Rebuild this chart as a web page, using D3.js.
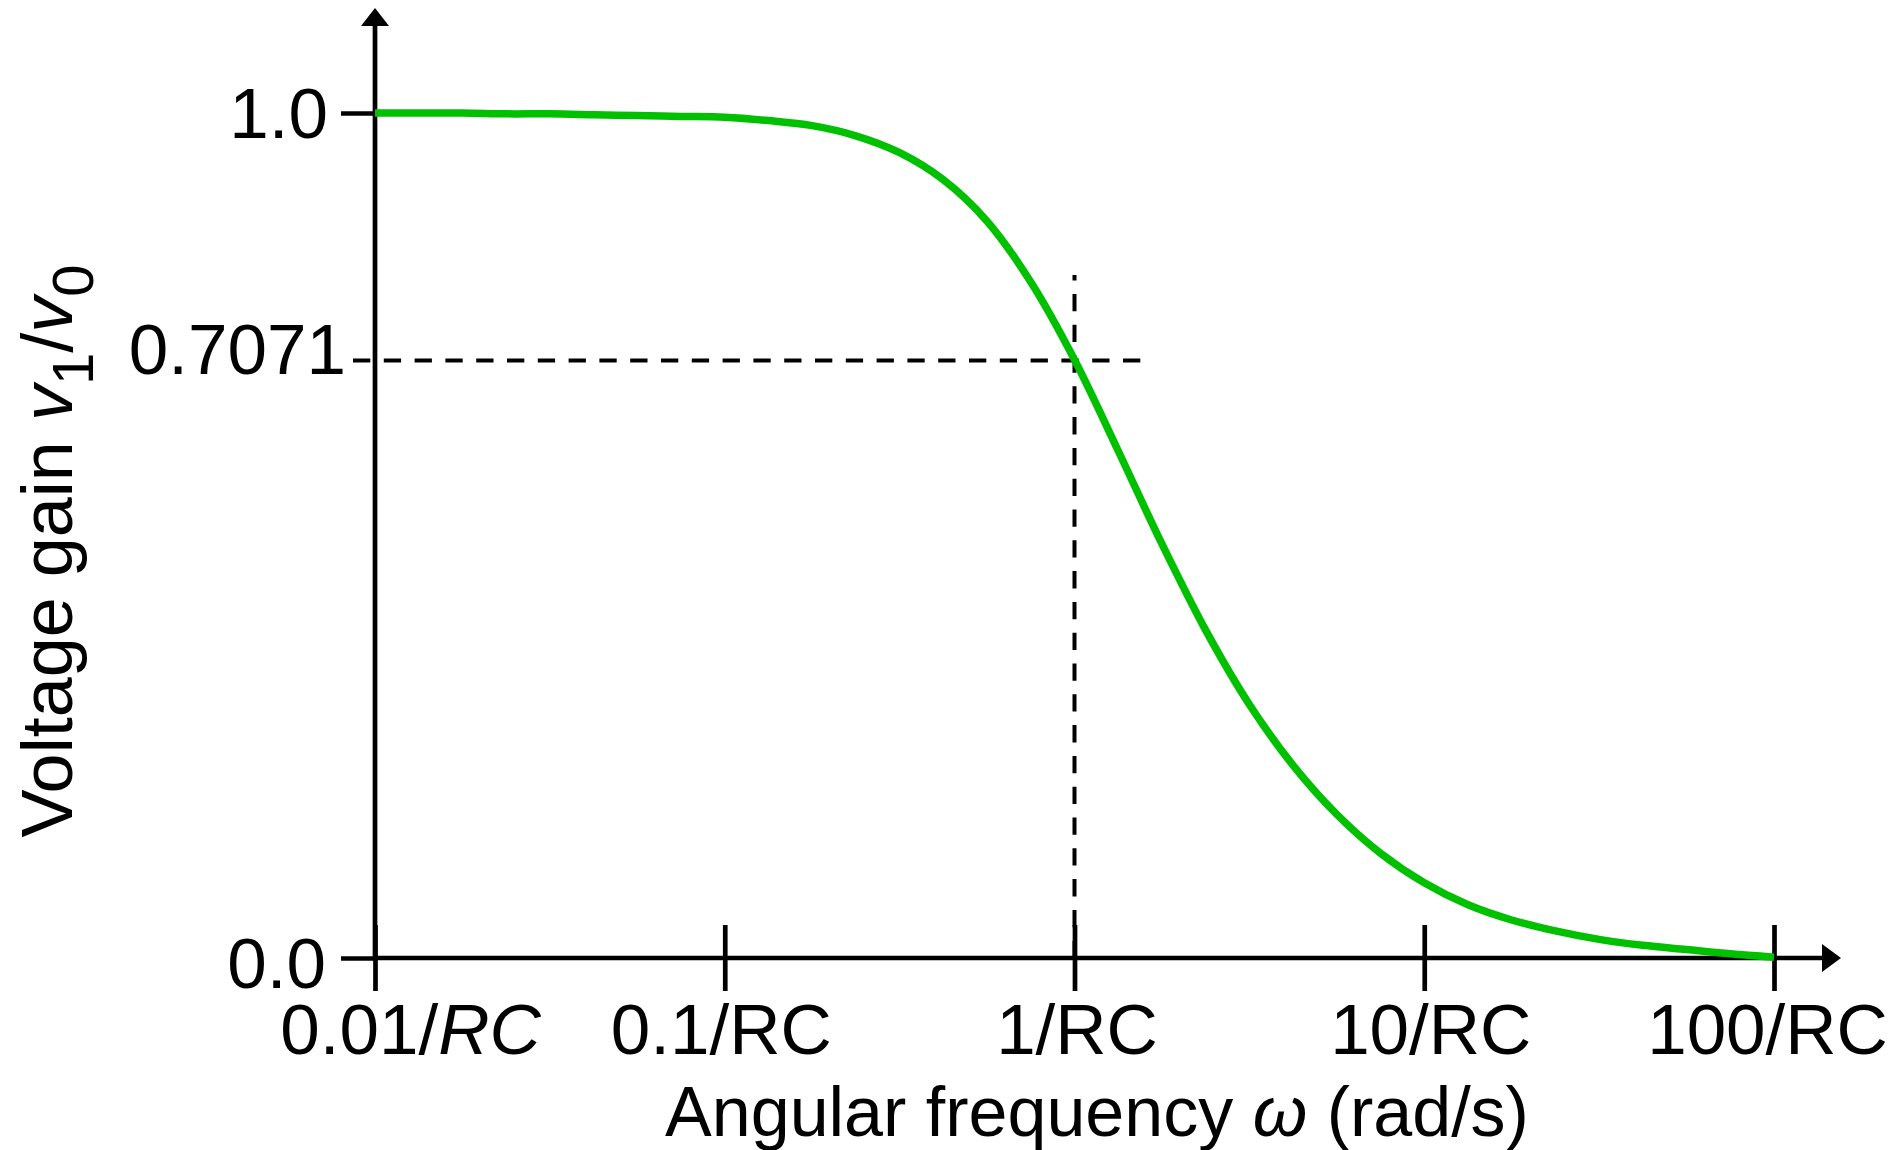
<!DOCTYPE html>
<html>
<head>
<meta charset="utf-8">
<script src="https://cdn.jsdelivr.net/npm/d3@7"></script>
<style>
  html, body { margin: 0; padding: 0; background: #ffffff; }
  svg { display: block; }
</style>
</head>
<body>
<div id="chart"></div>
<script>
// curve values (omega in units of 1/RC)
var omega = [0.01, 0.0133, 0.0178, 0.0237, 0.0316, 0.0422, 0.0562, 0.0750,
  0.1, 0.1334, 0.1778, 0.2371, 0.3162, 0.4217, 0.5623, 0.7499,
  1, 1.334, 1.778, 2.371, 3.162, 4.217, 5.623, 7.499,
  10, 13.34, 17.78, 23.71, 31.62, 42.17, 56.23, 74.99, 100]
var gain = [1.000, 1.000, 1.000, 0.999, 0.999, 0.998, 0.997, 0.996,
  0.995, 0.991, 0.985, 0.973, 0.953, 0.921, 0.872, 0.800,
  0.708, 0.600, 0.490, 0.388, 0.300, 0.228, 0.170, 0.124,
  0.089, 0.063, 0.045, 0.032, 0.022, 0.015, 0.010, 0.005, 0.001]

var xTickValues = [0.01, 0.1, 1, 10, 100]
// each label is a list of [text, italic] pieces
var xTickLabels = [
  [['0.01/', false], ['RC', true]],
  [['0.1/RC', false]],
  [['1/RC', false]],
  [['10/RC', false]],
  [['100/RC', false]]
]
var yTickValues = [0, 0.7071, 1]
var yTickLabels = ['0.0', '0.7071', '1.0']
var cutoffOmega = 1
var cutoffGain = 0.7071

var font = '"Liberation Sans", Arial, Helvetica, sans-serif'
var W = 1904, H = 1150
var axisWidth = 4.7

var svg = d3.select('#chart')
  .append('svg')
  .attr('width', W)
  .attr('height', H)
  .style('background', '#ffffff')

var x = d3.scaleLog().domain([0.01, 100]).range([375, 1774])
var y = d3.scaleLinear().domain([0, 1]).range([958, 113])

// small hand nudges so labels sit where the original put them
var xLabelNudge = [35, -4, 2, 6, -7]
var yLabelNudgeX = [-49, -29, -47]
var yLabelNudgeY = [5, -12, 0]

// X axis ticks (both sides of the axis line)
var xAxis = svg.append('g')
  .attr('transform', 'translate(0,' + y(0) + ')')
  .call(d3.axisBottom(x).tickValues(xTickValues).tickSize(33).tickFormat(''))
xAxis.select('.domain').remove()
xAxis.selectAll('.tick line')
  .attr('y1', -33)
  .attr('stroke', '#000')
  .attr('stroke-width', axisWidth)
xAxis.selectAll('.tick text').remove()
xAxis.selectAll('.tick').each(function (d, i) {
  var t = d3.select(this).append('text')
    .attr('x', xLabelNudge[i])
    .attr('y', 96)
    .attr('text-anchor', 'middle')
    .attr('fill', '#000')
    .style('font-family', font)
    .style('font-size', '71px')
  xTickLabels[i].forEach(function (p) {
    t.append('tspan')
      .style('font-style', p[1] ? 'italic' : 'normal')
      .text(p[0])
  })
})

// Y axis ticks
var yAxis = svg.append('g')
  .attr('transform', 'translate(' + x(0.01) + ',0)')
  .call(d3.axisLeft(y).tickValues(yTickValues).tickSize(34).tickFormat(''))
yAxis.select('.domain').remove()
yAxis.selectAll('.tick line')
  .attr('stroke', '#000')
  .attr('stroke-width', axisWidth)
  .filter(function (d) { return d === cutoffGain })
  .remove()
yAxis.selectAll('.tick text').remove()
yAxis.selectAll('.tick').each(function (d, i) {
  d3.select(this).append('text')
    .attr('x', yLabelNudgeX[i])
    .attr('y', yLabelNudgeY[i])
    .attr('dy', '0.35em')
    .attr('text-anchor', 'end')
    .attr('fill', '#000')
    .style('font-family', font)
    .style('font-size', '71px')
    .text(yTickLabels[i])
})

// dashed guides at the cutoff point
svg.append('line')
  .attr('x1', 353).attr('x2', 1142)
  .attr('y1', y(cutoffGain)).attr('y2', y(cutoffGain))
  .attr('stroke', '#000')
  .attr('stroke-width', 4)
  .attr('stroke-dasharray', '17.3,13.5')
svg.append('line')
  .attr('x1', x(cutoffOmega)).attr('x2', x(cutoffOmega))
  .attr('y1', y(0)).attr('y2', 275)
  .attr('stroke', '#000')
  .attr('stroke-width', 4)
  .attr('stroke-dasharray', '17.3,13.5')

// axis lines with arrow heads
var x0 = x(0.01), y0 = y(0)
svg.append('line')
  .attr('x1', x0).attr('x2', x0)
  .attr('y1', y0).attr('y2', 24)
  .attr('stroke', '#000').attr('stroke-width', axisWidth)
svg.append('path')
  .attr('d', 'M' + x0 + ',8 L' + (x0 - 14) + ',26 L' + (x0 + 14) + ',26 Z')
  .attr('fill', '#000')
svg.append('line')
  .attr('x1', x0).attr('x2', 1824)
  .attr('y1', y0).attr('y2', y0)
  .attr('stroke', '#000').attr('stroke-width', axisWidth)
svg.append('path')
  .attr('d', 'M1841,' + y0 + ' L1822,' + (y0 - 14) + ' L1822,' + (y0 + 14) + ' Z')
  .attr('fill', '#000')

// gain curve
var points = omega.map(function (w, i) { return [w, gain[i]] })
var line = d3.line()
  .x(function (d) { return x(d[0]) })
  .y(function (d) { return y(d[1]) })
  .curve(d3.curveCatmullRom.alpha(0.5))
svg.append('path')
  .datum(points)
  .attr('d', line)
  .attr('fill', 'none')
  .attr('stroke', '#00c000')
  .attr('stroke-width', 7.5)

// X label
var xLabel = svg.append('text')
  .attr('x', 1097)
  .attr('y', 1136)
  .attr('text-anchor', 'middle')
  .style('font-family', font)
  .style('font-size', '70px')
xLabel.append('tspan').text('Angular frequency ')
xLabel.append('tspan').style('font-style', 'italic').text('ω')
xLabel.append('tspan').text(' (rad/s)')

// Y label
var yLabel = svg.append('text')
  .attr('text-anchor', 'middle')
  .attr('transform', 'translate(72,551)rotate(-90)')
  .style('font-family', font)
  .style('font-size', '72px')
yLabel.append('tspan').text('Voltage gain ')
yLabel.append('tspan').style('font-style', 'italic').text('v')
yLabel.append('tspan').attr('dy', 21).style('font-size', '58px').text('1')
yLabel.append('tspan').attr('dy', -21).text('/')
yLabel.append('tspan').style('font-style', 'italic').text('v')
yLabel.append('tspan').attr('dy', 21).style('font-size', '58px').text('0')
</script>
</body>
</html>
